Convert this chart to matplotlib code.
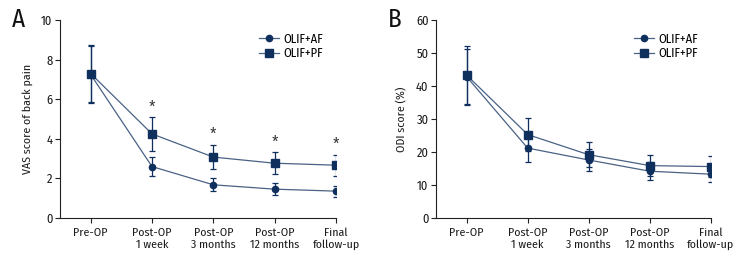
import matplotlib
matplotlib.use("Agg")
import matplotlib.pyplot as plt
from matplotlib.lines import Line2D

plt.rcParams['font.family'] = ['Fira Sans Condensed', 'PT Sans Narrow', 'DejaVu Sans']

categories = ["Pre-OP", "Post-OP\n1 week", "Post-OP\n3 months", "Post-OP\n12 months", "Final\nfollow-up"]

vas_af = [7.25, 2.6, 1.68, 1.46, 1.36]
vas_af_sd = [1.45, 0.5, 0.32, 0.3, 0.28]
vas_pf = [7.3, 4.25, 3.08, 2.77, 2.67]
vas_pf_sd = [1.45, 0.85, 0.62, 0.55, 0.53]
vas_sig = [False, True, True, True, True]

odi_af = [42.8, 21.2, 17.6, 14.2, 13.3]
odi_af_sd = [8.5, 4.2, 3.4, 2.7, 2.4]
odi_pf = [43.3, 25.3, 19.2, 15.9, 15.6]
odi_pf_sd = [8.7, 5.0, 3.7, 3.2, 3.1]

line_c = '#4a6285'
mark_c = '#0f2f5c'
axis_c = '#222222'
txt_c = '#1a1a1a'

fig = plt.figure(figsize=(7.56, 2.64), dpi=100)
axA = fig.add_axes([0.0794, 0.174, 0.365, 0.750])
axB = fig.add_axes([0.577, 0.174, 0.363, 0.750])

def draw(ax, af, afsd, pf, pfsd, ylim, yticks, ylabel, letter, sig=None):
    x = list(range(len(categories)))
    ax.errorbar(x, af, yerr=afsd, color=line_c, ecolor=mark_c, elinewidth=0.9, capsize=2.5,
                capthick=0.9, lw=0.9, marker='o', ms=4.5, mfc=mark_c, mec=mark_c)
    ax.errorbar(x, pf, yerr=pfsd, color=line_c, ecolor=mark_c, elinewidth=0.9, capsize=2.5,
                capthick=0.9, lw=0.9, marker='s', ms=5.5, mfc=mark_c, mec=mark_c)
    if sig is not None:
        for i, s in enumerate(sig):
            if s:
                ax.annotate('*', (x[i], pf[i] + pfsd[i]), xytext=(0, 1), textcoords='offset points',
                            ha='center', va='bottom', fontsize=11.5, color='#333333')
    ax.set_xlim(-0.5, len(categories) - 1)
    ax.set_ylim(*ylim)
    ax.set_yticks(yticks)
    ax.set_xticks(x)
    ax.set_xticklabels(categories, fontsize=8.5, color=txt_c, linespacing=1.15)
    ax.tick_params(axis='y', labelsize=9, length=3.5, width=0.8, color=axis_c, labelcolor=txt_c, pad=2)
    ax.tick_params(axis='x', length=3.5, width=0.8, color=axis_c, pad=3.5)
    for s in ['top', 'right']:
        ax.spines[s].set_visible(False)
    for s in ['left', 'bottom']:
        ax.spines[s].set_color(axis_c)
        ax.spines[s].set_linewidth(0.8)
    ax.set_ylabel(ylabel, fontsize=8.5, color=txt_c, labelpad=6)
    handles = [Line2D([], [], color=line_c, lw=0.9, marker='o', ms=4.5, mfc=mark_c, mec=mark_c),
               Line2D([], [], color=line_c, lw=0.9, marker='s', ms=5.5, mfc=mark_c, mec=mark_c)]
    ax.legend(handles, ['OLIF+AF', 'OLIF+PF'], loc='upper left', bbox_to_anchor=(0.69, 0.98),
              frameon=False, fontsize=9, handlelength=1.6, handletextpad=0.3, labelspacing=0.15,
              borderpad=0.2)
    ax.text(-0.175, 1.0, letter, transform=ax.transAxes, fontsize=18, ha='left', va='center', color='#111111')

draw(axA, vas_af, vas_af_sd, vas_pf, vas_pf_sd, (0, 10), [0, 2, 4, 6, 8, 10],
     'VAS score of back pain', 'A', vas_sig)
draw(axB, odi_af, odi_af_sd, odi_pf, odi_pf_sd, (0, 60), [0, 10, 20, 30, 40, 50, 60],
     'ODI score (%)', 'B')

fig.savefig('out.png', dpi=100)
